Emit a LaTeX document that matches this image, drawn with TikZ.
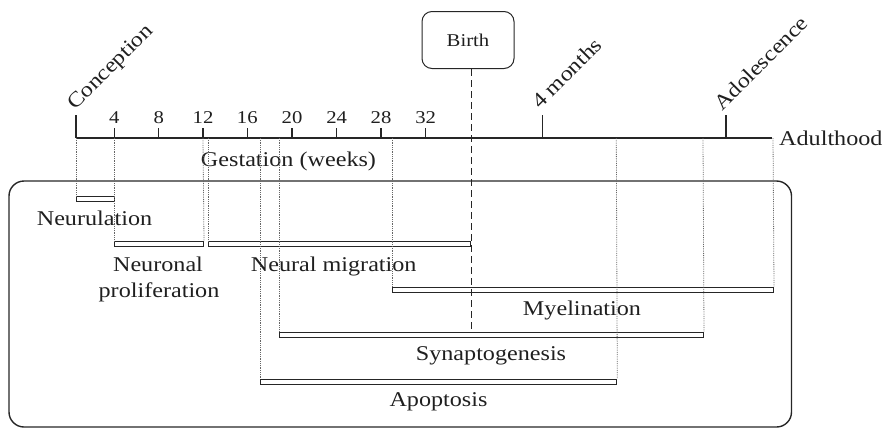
\documentclass[tikz,border=0pt]{standalone}
\usepackage{fontspec}
\setmainfont{Liberation Serif}[FakeStretch=1.15]
\begin{document}
\begin{tikzpicture}[x=1pt,y=-1pt,
  every node/.style={font=\fontsize{21}{25}\selectfont, text=black!88},
  axisline/.style={line width=1.6pt, draw=black!85},
  tickmark/.style={line width=1.4pt, draw=black!85},
  guide/.style={densely dotted, line width=0.8pt, draw=black!60},
  bar/.style={draw=black!85, line width=1pt, fill=white, inner sep=0pt, minimum height=5pt, anchor=north west},
  lbl/.style={anchor=base, inner sep=0pt},
  num/.style={anchor=base, inner sep=0pt, font=\fontsize{18}{22}\selectfont},
  slanted/.style={rotate=45, anchor=base west, inner sep=0pt}]
\useasboundingbox (0,0) rectangle (885,429);

% outer frame for the developmental processes
\draw[line width=1.4pt, draw=black!85, rounded corners=15pt] (9,181) rectangle (791.5,427);

% time axis
\coordinate (w0) at (76,138);
\coordinate (w4) at (114.3,138);
\coordinate (w12) at (203,138);
\coordinate (w12b) at (208.3,138);
\coordinate (apL) at (260,138);
\coordinate (syL) at (279.3,138);
\coordinate (myL) at (392,138);
\coordinate (apR) at (616.3,138);
\coordinate (syR) at (703,138);
\coordinate (myR) at (773,138);
\coordinate (aend) at (772,138);
\draw[axisline] (w0) -- (aend);
\draw[tickmark] (w0) -- ++(0,-23);

% week ticks and numbers
\foreach \n/\xx in {4/114.3, 8/158.7, 12/203, 16/247.3, 20/292, 24/336.7, 28/381, 32/425.7}{
  \draw[tickmark] (\xx,138) -- (\xx,128);
  \node[num] (n\n) at (\xx,123.3) {\n};
}

% later milestones
\draw[tickmark] (542.3,138) -- (542.3,115);
\draw[tickmark] (726,138) -- (726,115);
\node[slanted] (conc) at (75,111) {Conception};
\node[slanted] (fourm) at (540,110) {4 months};
\node[slanted] (adol) at (722,112) {Adolescence};
\node[anchor=base west, inner sep=0pt] (adult) at (779,145.5) {Adulthood};
\node[lbl] (gest) at (288.5,166.7) {Gestation (weeks)};

% birth marker
\node[draw=black!85, line width=1pt, rounded corners=10pt, minimum width=92pt, minimum height=57pt, font=\fontsize{18}{22}\selectfont] (birth) at (468,40) {Birth};

% process bars
\node[bar, minimum width=38.3pt] (neurbar) at (76,196) {};
\node[bar, minimum width=88.7pt] (prolbar) at (114.3,241) {};
\node[bar, minimum width=262pt] (migbar) at (208.3,241) {};
\node[bar, minimum width=381pt] (myelbar) at (392,287) {};
\node[bar, minimum width=423.7pt] (synbar) at (279.3,332.3) {};
\node[bar, minimum width=356.3pt] (apobar) at (260,379) {};

% birth line
\draw[dash pattern=on 7pt off 4pt, line width=1pt, draw=black!85] (migbar.north east |- birth.south) -- (migbar.north east |- synbar.north);

% guides from the axis to the bar ends
\draw[guide] (w0) -- (neurbar.north west);
\draw[guide] (w4) -- (prolbar.north west);
\draw[guide] (w12) -- (prolbar.north east);
\draw[guide] (w12b) -- (migbar.north west);
\draw[guide] (apL) -- (apobar.north west);
\draw[guide] (syL) -- (synbar.north west);
\draw[guide] (myL) -- (myelbar.north west);
\draw[guide] (apR) -- (apobar.north east);
\draw[guide] (syR) -- (synbar.north east);
\draw[guide] (myR) -- (myelbar.north east);

% process labels
\node[lbl] (neurl) at (94.5,225) {Neurulation};
\node[lbl] (proll1) at (158,271.7) {Neuronal};
\node[lbl] (proll2) at (159,297.5) {proliferation};
\node[lbl] (migl) at (333.7,271.7) {Neural migration};
\node[lbl] (myell) at (582,315) {Myelination};
\node[lbl] (synl) at (491,360) {Synaptogenesis};
\node[lbl] (apol) at (438.5,406.7) {Apoptosis};
\end{tikzpicture}
\end{document}
